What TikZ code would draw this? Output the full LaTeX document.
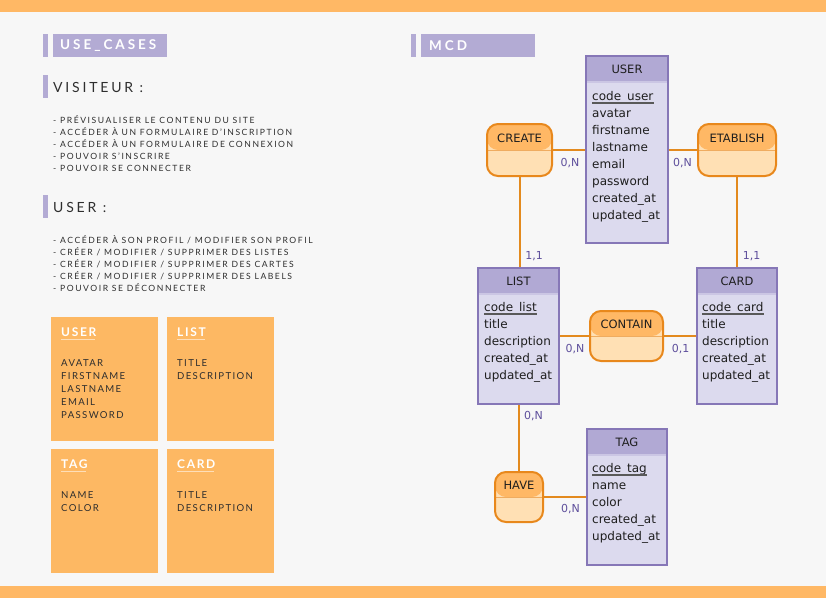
\documentclass[tikz,border=0pt]{standalone}
\usepackage{fontspec}
\setmainfont{DejaVu Sans}
\newfontfamily\capsfont[LetterSpace=18]{Lato}
\newfontfamily\subfont[LetterSpace=20]{Lato}
\newfontfamily\citemfont[LetterSpace=14]{Lato}
\newfontfamily\capsboldfont[LetterSpace=22]{Lato Bold}
\newfontfamily\ctitlefont[LetterSpace=14]{Lato Bold}
\definecolor{bg}{HTML}{F7F7F7}
\definecolor{band}{HTML}{FFB865}
\definecolor{cardor}{HTML}{FDB863}
\definecolor{purp}{HTML}{B3ABD4}
\definecolor{txt}{HTML}{2E2E2E}
\definecolor{entborder}{HTML}{8677B7}
\definecolor{enthead}{HTML}{B1A9D4}
\definecolor{entbody}{HTML}{DCDAEE}
\definecolor{entline}{HTML}{CBC6E4}
\definecolor{asborder}{HTML}{E8881C}
\definecolor{ashead}{HTML}{FFB865}
\definecolor{asbody}{HTML}{FFE0B4}
\definecolor{linkcol}{HTML}{E38A1E}
\definecolor{cardcol}{HTML}{5E4F9C}
\definecolor{mcdtxt}{HTML}{1E1E1E}
\tikzset{
  entity/.style={draw=entborder, line width=2pt, fill=entbody, inner sep=0pt,
    path picture={\fill[enthead] (path picture bounding box.north west) rectangle ([yshift=-26pt]path picture bounding box.north east);
      \draw[entline, line width=1.5pt] ([yshift=-26pt]path picture bounding box.north west) -- ([yshift=-26pt]path picture bounding box.north east);}},
  assoc/.style={draw=asborder, line width=2pt, fill=asbody, rounded corners=11pt, inner sep=0pt,
    path picture={\fill[ashead] (path picture bounding box.north west) rectangle (path picture bounding box.east);
      \draw[asborder!70, line width=1pt] (path picture bounding box.west) -- (path picture bounding box.east);}},
  ttl/.style={font=\fontsize{11.5}{13}\selectfont, text=mcdtxt, inner sep=0pt},
  attr/.style={font=\fontsize{12}{14}\selectfont, text=mcdtxt, inner sep=0pt, anchor=base west},
  cardi/.style={font=\fontsize{11}{13}\selectfont, text=cardcol, inner sep=0pt},
  link/.style={draw=linkcol, line width=2pt},
  item/.style={font=\capsfont\fontsize{8.6}{10}\selectfont, text=txt, inner sep=0pt, anchor=base west},
  citem/.style={font=\citemfont\fontsize{9.6}{11}\selectfont, text=txt, inner sep=0pt, anchor=base west},
  ctitle/.style={font=\ctitlefont\fontsize{12}{14}\selectfont, text=white, inner sep=0pt, anchor=base west},
  subhead/.style={font=\subfont\fontsize{14}{16}\selectfont, text=txt, inner sep=0pt, anchor=base west},
  mainhead/.style={font=\capsboldfont\fontsize{13.5}{16}\selectfont, text=white, inner sep=0pt, anchor=west},
}
\begin{document}
\begin{tikzpicture}[x=1pt,y=-1pt]
\fill[bg] (0,0) rectangle (826,598);
\useasboundingbox (0,0) rectangle (826,598);
\fill[band] (0,0) rectangle (826,12);
\fill[band] (0,586) rectangle (826,598);

% ---- USE_CASES header
\fill[purp] (43,34) rectangle (48,57);
\fill[purp] (53,34) rectangle (167,57);
\node[mainhead] (uchead) at (60,45.5) {USE\_CASES};

% VISITEUR
\fill[purp] (43,75) rectangle (48,98);
\node[subhead] (vishead) at (53,92) {VISITEUR :};
\node[item] (v1) at (53,123) {- PRÉVISUALISER LE CONTENU DU SITE};
\node[item] (v2) at (53,135) {- ACCÉDER À UN FORMULAIRE D’INSCRIPTION};
\node[item] (v3) at (53,147) {- ACCÉDER À UN FORMULAIRE DE CONNEXION};
\node[item] (v4) at (53,159) {- POUVOIR S’INSCRIRE};
\node[item] (v5) at (53,171) {- POUVOIR SE CONNECTER};

% USER
\fill[purp] (43,195) rectangle (48,218);
\node[subhead] (ushead) at (53,212) {USER :};
\node[item] (u1) at (53,243) {- ACCÉDER À SON PROFIL / MODIFIER SON PROFIL};
\node[item] (u2) at (53,255) {- CRÉER / MODIFIER / SUPPRIMER DES LISTES};
\node[item] (u3) at (53,267) {- CRÉER / MODIFIER / SUPPRIMER DES CARTES};
\node[item] (u4) at (53,279) {- CRÉER / MODIFIER / SUPPRIMER DES LABELS};
\node[item] (u5) at (53,291) {- POUVOIR SE DÉCONNECTER};

% cards
\fill[cardor] (51,317) rectangle (158,441);
\fill[cardor] (167,317) rectangle (274,441);
\fill[cardor] (51,449) rectangle (158,573);
\fill[cardor] (167,449) rectangle (274,573);
\node[ctitle] (cu) at (61,336) {USER};
\node[ctitle] (cl) at (177,336) {LIST};
\node[ctitle] (ct) at (61,468) {TAG};
\node[ctitle] (cc) at (177,468) {CARD};
\foreach \n in {cu,cl,ct,cc}
  \draw[white, opacity=0.55, line width=0.9pt] ([yshift=-3.5pt]\n.base west) -- ([yshift=-3.5pt,xshift=-1.5pt]\n.base east);
\node[citem] (cu1) at (61,366) {AVATAR};
\node[citem] (cu2) at (61,379) {FIRSTNAME};
\node[citem] (cu3) at (61,392) {LASTNAME};
\node[citem] (cu4) at (61,405) {EMAIL};
\node[citem] (cu5) at (61,418) {PASSWORD};
\node[citem] (cl1) at (177,366) {TITLE};
\node[citem] (cl2) at (177,379) {DESCRIPTION};
\node[citem] (ct1) at (61,498) {NAME};
\node[citem] (ct2) at (61,511) {COLOR};
\node[citem] (cc1) at (177,498) {TITLE};
\node[citem] (cc2) at (177,511) {DESCRIPTION};

% ---- MCD header
\fill[purp] (411,34) rectangle (416,57);
\fill[purp] (421,34) rectangle (535,57);
\node[mainhead] (mcdhead) at (429,45.5) {MCD};

% entities
\node[entity, minimum width=82pt, minimum height=187pt] (user) at (627,149.5) {};
\node[entity, minimum width=81pt, minimum height=136pt] (list) at (518.5,336) {};
\node[entity, minimum width=80pt, minimum height=136pt] (card) at (737,336) {};
\node[entity, minimum width=80pt, minimum height=136pt] (tag) at (627,497) {};
\node[ttl] (userT) at ([yshift=-14pt]user.north) {USER};
\node[ttl] (listT) at ([yshift=-14pt]list.north) {LIST};
\node[ttl] (cardT) at ([yshift=-14pt]card.north) {CARD};
\node[ttl] (tagT) at ([yshift=-14pt]tag.north) {TAG};

% associations
\node[assoc, minimum width=65pt, minimum height=52pt] (create) at (519.5,150) {};
\node[assoc, minimum width=78pt, minimum height=52pt] (etablish) at (737,150) {};
\node[assoc, minimum width=73pt, minimum height=50pt] (contain) at (626.5,336) {};
\node[assoc, minimum width=48pt, minimum height=50pt] (have) at (519,497) {};
\node[ttl] (createT) at ([yshift=11.5pt]create.center) {CREATE};
\node[ttl] (etablishT) at ([yshift=11.5pt]etablish.center) {ETABLISH};
\node[ttl] (containT) at ([yshift=11.5pt]contain.center) {CONTAIN};
\node[ttl] (haveT) at ([yshift=11.5pt]have.center) {HAVE};

% attributes
\foreach \t [count=\i from 0] in {code\_user,avatar,firstname,lastname,email,password,created\_at,updated\_at}
  \node[attr] (ua\i) at (592,100+17*\i) {\t};
\foreach \t [count=\i from 0] in {code\_list,title,description,created\_at,updated\_at}
  \node[attr] (la\i) at (484,311+17*\i) {\t};
\foreach \t [count=\i from 0] in {code\_card,title,description,created\_at,updated\_at}
  \node[attr] (ca\i) at (702,311+17*\i) {\t};
\foreach \t [count=\i from 0] in {code\_tag,name,color,created\_at,updated\_at}
  \node[attr] (ta\i) at (592,472+17*\i) {\t};
\foreach \n in {ua0,la0,ca0,ta0}
  \draw[black!65, line width=1.3pt] ([yshift=-3pt]\n.base west) -- ([yshift=-3pt]\n.base east);

% links
\draw[link] (create.east) -- (create.east -| user.west);
\draw[link] (etablish.west) -- (etablish.west -| user.east);
\draw[link] (create.south) -- (create.south |- list.north);
\draw[link] (etablish.south) -- (card.north);
\draw[link] (list.east) -- (contain.west);
\draw[link] (contain.east) -- (card.west);
\draw[link] (list.south) -- (list.south |- have.north);
\draw[link] (have.east) -- (have.east -| tag.west);

% cardinalities
\node[cardi] (k1) at (570,163) {0,N};
\node[cardi] (k2) at (682.5,163) {0,N};
\node[cardi] (k3) at (534,256) {1,1};
\node[cardi] (k4) at (751.5,256) {1,1};
\node[cardi] (k5) at (575,349) {0,N};
\node[cardi] (k6) at (680.5,349) {0,1};
\node[cardi] (k7) at (533.5,416) {0,N};
\node[cardi] (k8) at (570.5,509) {0,N};
\end{tikzpicture}
\end{document}
